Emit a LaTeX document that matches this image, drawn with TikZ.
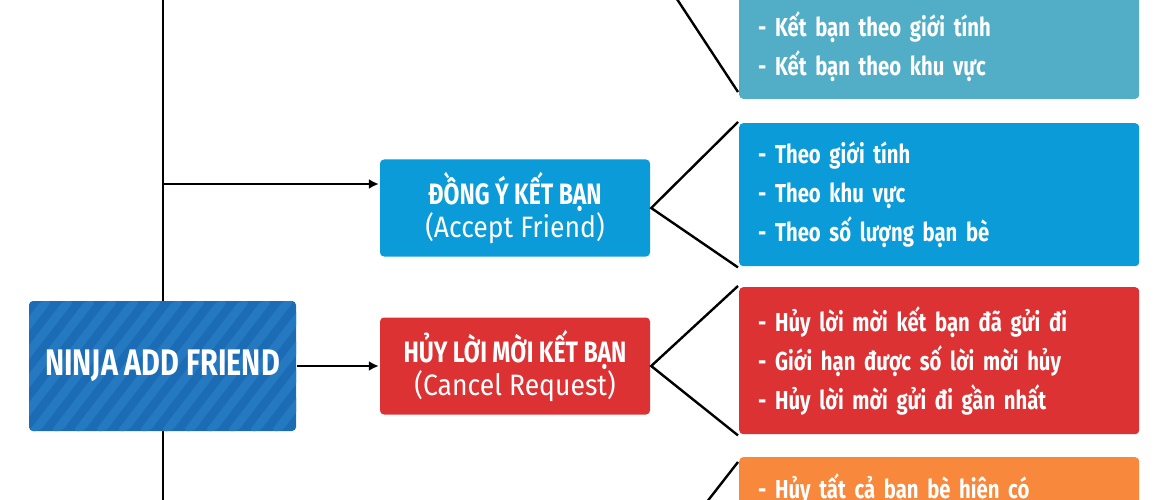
\documentclass[tikz,border=0pt]{standalone}
\usepackage{fontspec}
\setmainfont{Fira Sans}
\newfontfamily\condfont{Fira Sans}[FakeStretch=0.78]
\newfontfamily\subfont{Fira Sans}[FakeStretch=0.9]
\usetikzlibrary{positioning,arrows.meta}
\definecolor{ninjablue}{HTML}{1B6CB4}
\definecolor{ninjastripe}{HTML}{2479C1}
\definecolor{acceptblue}{HTML}{0B9BD8}
\definecolor{cancelred}{HTML}{DC3234}
\definecolor{tealbox}{HTML}{52AEC6}
\definecolor{orangebox}{HTML}{F8883C}

\begin{document}
\begin{tikzpicture}[x=1pt, y=-1pt, -{Latex[length=10pt,width=10pt]}, auto,
node distance=158pt and 352pt, on grid,
line width=2.4pt,
mainbox/.style={rectangle, rounded corners=4pt, fill=ninjablue, text=white,
  minimum width=267pt, minimum height=130pt,
  font=\condfont\bfseries\fontsize{37}{40}\selectfont,
  path picture={\foreach \s in {-5,...,12}
    \fill[-, ninjastripe] ([xshift=\s*22pt]path picture bounding box.south west)
      -- ++(11pt,0pt) -- ++(100pt,130pt) -- ++(-11pt,0pt) -- cycle;}},
kernel/.style={rectangle, rounded corners=4pt, text=white, align=center,
  minimum width=270pt, minimum height=97pt,
  font=\condfont\bfseries\fontsize{29.5}{32}\selectfont},
itembox/.style={rectangle, rounded corners=4pt, text=white, align=left,
  text width=362pt, inner xsep=19pt, inner ysep=0pt,
  font=\condfont\bfseries\fontsize{26}{39}\selectfont}
]
\useasboundingbox (0,0) rectangle (1170,500);
\clip (0,0) rectangle (1170,500);

\coordinate (top) at (163,-10);
\coordinate (bottom) at (163,510);
\draw[-] (top) -- (bottom);

\node[mainbox] (ninja) at (162.5,366) {NINJA ADD FRIEND};
\node[kernel, fill=cancelred] (cancel) [right=352.5pt of ninja]
  {HỦY LỜI MỜI KẾT BẠN\\{\subfont\mdseries (Cancel Request)}};
\node[kernel, fill=acceptblue] (accept) [above=158pt of cancel]
  {ĐỒNG Ý KẾT BẠN\\{\subfont\mdseries (Accept Friend)}};

\node[itembox, fill=acceptblue, minimum height=143pt, anchor=north west]
  (rblue) at (738,122)
  {- Theo giới tính\\- Theo khu vực\\- Theo số lượng bạn bè};
\node[itembox, fill=cancelred, minimum height=147pt, anchor=north west]
  (rred) at (738,286)
  {- Hủy lời mời kết bạn đã gửi đi\\- Giới hạn được số lời mời hủy\\- Hủy lời mời gửi đi gần nhất};
\node[itembox, fill=tealbox, inner ysep=17pt, anchor=south west]
  (rteal) at (738,100)
  {- Kết bạn theo giới tính\\- Kết bạn theo khu vực};
\node[itembox, fill=orangebox, inner ysep=16pt, anchor=north west]
  (rorange) at (738,456) {- Hủy tất cả bạn bè hiện có};

\coordinate (spineA) at (163,184);
\draw (spineA) -- (spineA -| accept.west);
\draw (ninja) -- (cancel);

\draw[-] (rblue.north west) -- (accept.east) -- (rblue.south west);
\draw[-] (rred.north west) -- (cancel.east) -- (rred.south west);
\coordinate (upper) at (650,-42);
\coordinate (lower) at (650,575);
\draw[-] (upper) -- ([yshift=8pt]rteal.south west);
\draw[-] (lower) -- ([yshift=-6pt]rorange.north west);
\end{tikzpicture}
\end{document}
